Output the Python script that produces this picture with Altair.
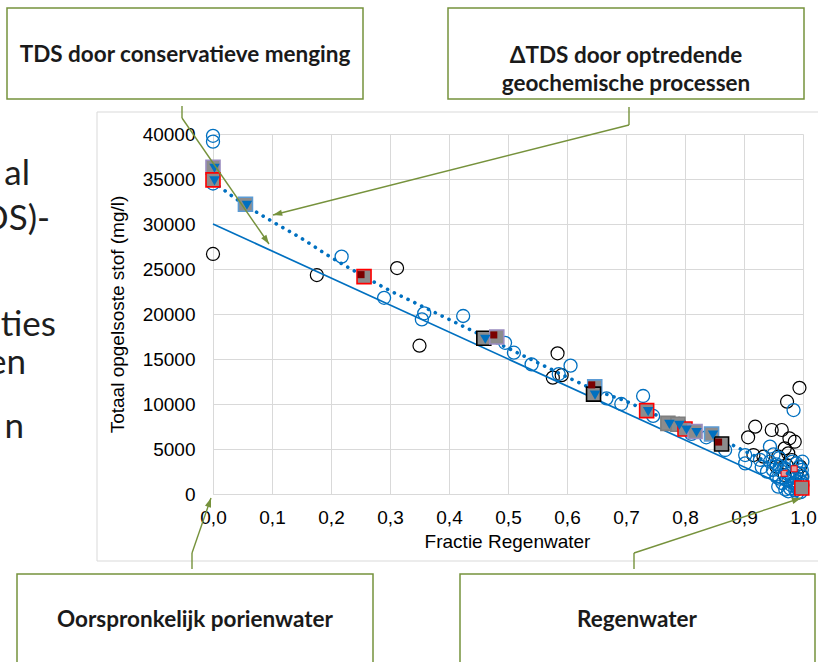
import math
import altair as alt
import pandas as pd

# ------------------------------------------------------------------ data
x_ticks = [0.0, 0.1, 0.2, 0.3, 0.4, 0.5, 0.6, 0.7, 0.8, 0.9, 1.0]
y_ticks = [0, 5000, 10000, 15000, 20000, 25000, 30000, 35000, 40000]

# conservative mixing line (solid)
mix_x = [0.0, 1.0]
mix_y = [30000, 0]

# trend through observed TDS (dotted)
trend_x = [0.0, 0.05, 0.1, 0.15, 0.2, 0.25, 0.3, 0.35, 0.4, 0.45, 0.5,
           0.55, 0.6, 0.65, 0.7, 0.75, 0.8, 0.85, 0.9, 0.95, 1.0]
trend_y = [34700, 32300, 30300, 28400, 26300, 24400, 22600, 21000, 19400, 17800, 16200,
           14600, 13000, 11500, 10300, 8800, 7500, 6400, 4800, 3200, 1200]

# open blue circles
blue_x = [0.0, 0.0, 0.0, 0.218, 0.29, 0.354, 0.358, 0.424, 0.495, 0.51, 0.54, 0.606,
          0.586, 0.667, 0.692, 0.729, 0.746, 0.775, 0.811, 0.836, 0.868, 0.902, 0.902,
          0.927, 0.944, 0.984,
          0.944, 0.961, 0.972, 0.989, 0.999, 0.998, 0.981, 0.995, 0.972, 0.955, 0.999,
          0.992, 0.983, 0.964, 0.949, 0.939, 0.958, 0.978, 0.999, 0.965, 0.987, 0.975,
          0.996, 0.990, 0.950, 0.960, 0.930,
          0.970, 0.980, 0.990, 0.985, 0.975, 0.995, 0.960, 0.968, 0.993, 0.982, 0.955,
          0.990, 0.998]
blue_y = [39800, 39150, 34500, 26370, 21800, 19400, 20080, 19780, 16800, 15700, 14400, 14260,
          13330, 10630, 10000, 10890, 8670, 7780, 6670, 6300, 4890, 4330, 3400,
          3800, 5260, 9330,
          3590, 3040, 2670, 3410, 3590, 2670, 1930, 1560, 1560, 1930, 1000,
          810, 1220, 2480, 2670, 2480, 810, 630, 1930, 1200, 400, 300,
          200, 1400, 4400, 4000, 3000,
          500, 1000, 700, 2000, 2200, 2300, 1700, 2900, 3000, 3600, 3300,
          100, 1300]

# open black circles
black_x = [0.0, 0.176, 0.312, 0.35, 0.584, 0.576, 0.591, 0.79, 0.907, 0.919, 0.947,
           0.964, 0.973, 0.994, 0.977, 0.986, 0.969, 0.975, 0.958, 0.916, 0.933, 0.981,
           0.995, 0.972, 0.955, 0.989, 0.969, 0.998, 0.986]
black_y = [26670, 24330, 25100, 16480, 15630, 12930, 13200, 7800, 6300, 7480, 7110,
           7110, 10260, 11800, 6190, 5810, 5070, 4520, 4150, 4330, 4150, 3780,
           3040, 3220, 3040, 2300, 2110, 1930, 1190]

# composite square markers
sq_x = [0.0, 0.0, 0.055, 0.256, 0.459, 0.481, 0.647, 0.645, 0.735, 0.771, 0.788,
        0.80, 0.817, 0.845, 0.862, 0.998]
sq_y = [36300, 34900, 32200, 24150, 17300, 17450, 11900, 11100, 9260, 7850, 7750,
        7220, 6950, 6670, 5550, 670]
sq_edge = ["purple", "red", "blue", "red", "black", "purple", "blue", "black", "red",
           "gray", "gray", "red", "purple", "blue", "black", "red"]
sq_maroon = [0, 0, 0, 1, 0, 1, 1, 0, 0, 0, 0, 0, 0, 0, 1, 0]
sq_tri = [1, 1, 1, 0, 1, 0, 0, 1, 1, 1, 1, 1, 1, 1, 0, 0]

# small red squares inside the cluster near 1.0
red_x = [0.968, 0.985, 0.992]
red_y = [2300, 2800, 1100]

# ------------------------------------------------------------------ layout
W, H = 590, 360
LEFT, TOP = 213, 134
BLUE = "#0070C0"
OLIVE = "#76923C"
AX_FONT = "Liberation Sans"
BOX_FONT = "Lato"


def px(v):
    return v - LEFT


def py(v):
    return v - TOP


one = alt.Data(values=[{"k": 0}])

xs = alt.Scale(domain=[0, 1], nice=False, zero=False)
ys = alt.Scale(domain=[0, 40000], nice=False)

x_axis = alt.Axis(
    values=x_ticks,
    labelExpr="replace(format(datum.value, '.1f'), '.', ',')",
    title="Fractie Regenwater",
    grid=True, gridColor="#d9d9d9", domainColor="#d9d9d9",
    ticks=False, tickSize=0, labelFlush=False, labelOverlap=False,
    labelFont=AX_FONT, labelFontSize=19, labelColor="#000000",
    labelPadding=23, labelBaseline="middle",
    titleFont=AX_FONT, titleFontSize=19, titleFontWeight="normal", titleColor="#000000",
    titleX=294, titleY=47, titleBaseline="middle", titleAlign="center",
)
y_axis = alt.Axis(
    values=y_ticks, format="d",
    title="Totaal opgelsoste stof (mg/l)",
    grid=True, gridColor="#d9d9d9", domainColor="#d9d9d9",
    ticks=False, tickSize=0, labelFlush=False,
    labelFont=AX_FONT, labelFontSize=19, labelColor="#000000", labelPadding=18,
    titleFont=AX_FONT, titleFontSize=19, titleFontWeight="normal", titleColor="#000000",
    titleX=-96, titleY=180, titleBaseline="middle", titleAlign="center", titleAngle=270,
)

X = lambda: alt.X("x:Q", scale=xs, axis=x_axis)
Y = lambda: alt.Y("y:Q", scale=ys, axis=y_axis)

blue_df = pd.DataFrame({"x": blue_x, "y": blue_y})
black_df = pd.DataFrame({"x": black_x, "y": black_y})
mix_df = pd.DataFrame({"x": mix_x, "y": mix_y})
trend_df = pd.DataFrame({"x": trend_x, "y": trend_y})
sq_df = pd.DataFrame({"x": sq_x, "y": sq_y, "edge": sq_edge,
                      "maroon": sq_maroon, "tri": sq_tri})
red_df = pd.DataFrame({"x": red_x, "y": red_y})

layers = []

# chart-area frame
layers.append(
    alt.Chart(one).mark_rect(fillOpacity=0, stroke="#d9d9d9", strokeWidth=1).encode(
        x=alt.value(px(97)), x2=alt.value(px(830)),
        y=alt.value(py(112)), y2=alt.value(py(561)))
)

black_layer = alt.Chart(black_df).mark_point(
    shape="circle", filled=False, color="#000000", size=169, strokeWidth=1.2, opacity=1
).encode(x=X(), y=Y())
blue_layer = alt.Chart(blue_df).mark_point(
    shape="circle", filled=False, color=BLUE, size=169, strokeWidth=1.3, opacity=1
).encode(x=X(), y=Y())
mix_layer = alt.Chart(mix_df).mark_line(color=BLUE, strokeWidth=1.7).encode(x=X(), y=Y())
trend_layer = alt.Chart(trend_df).mark_line(
    color=BLUE, strokeWidth=3.6, strokeDash=[0.1, 7.5], strokeCap="round",
    interpolate="monotone"
).encode(x=X(), y=Y())
red_layer = alt.Chart(red_df).mark_square(
    size=36, fill="#e89a9a", stroke="#ff0000", strokeWidth=1, opacity=1, fillOpacity=1
).encode(x=X(), y=Y())
sq_layer = alt.Chart(sq_df).mark_square(
    size=196, fill="#8c8c8c", strokeWidth=1.6, opacity=1, fillOpacity=1
).encode(
    x=X(), y=Y(),
    stroke=alt.Stroke("edge:N", legend=None, scale=alt.Scale(
        domain=["purple", "red", "blue", "black", "gray"],
        range=["#9a8cc0", "#ff0000", "#5b9bd5", "#000000", "#7f7f7f"])),
)
maroon_layer = alt.Chart(sq_df).transform_filter("datum.maroon == 1").mark_square(
    size=50, color="#7b0000", filled=True, opacity=1, xOffset=-3, yOffset=-2
).encode(x=X(), y=Y())
tri_layer = alt.Chart(sq_df).transform_filter("datum.tri == 1").mark_point(
    shape="triangle-down", filled=True, color=BLUE, size=110, opacity=1, xOffset=1.5, yOffset=1
).encode(x=X(), y=Y())

layers += [black_layer, blue_layer, red_layer, mix_layer, trend_layer,
           sq_layer, maroon_layer, tri_layer]

# slide text at the left edge (cut off by the picture's border)
slide_lines = [("al", 30, 185), ("(TDS)-", 50, 230), ("ties", 56, 336),
               ("en", 26, 374), ("n", 24, 438)]
for txt, xr, yb in slide_lines:
    layers.append(
        alt.Chart(one).mark_text(text=txt, font=BOX_FONT, fontSize=35, color="#1e1e1e",
                                 align="right", baseline="alphabetic").encode(
            x=alt.value(px(xr)), y=alt.value(py(yb)))
    )

# callout boxes
boxes = [(7, 8, 363, 99), (448, 8, 804, 99), (17, 574, 373, 700), (460, 574, 815, 700)]
for x1, y1, x2, y2 in boxes:
    layers.append(
        alt.Chart(one).mark_rect(fill="#ffffff", stroke=OLIVE, strokeWidth=1.5).encode(
            x=alt.value(px(x1)), x2=alt.value(px(x2)),
            y=alt.value(py(y1)), y2=alt.value(py(y2)))
    )

box_texts = [("TDS door conservatieve menging", 185, 55),
             (["ΔTDS door optredende", "geochemische processen"], 626, 56),
             ("Oorspronkelijk porienwater", 195, 620),
             ("Regenwater", 637, 620)]
for txt, cx, cy in box_texts:
    layers.append(
        alt.Chart(one).mark_text(text=txt, font=BOX_FONT, fontSize=22.5, fontWeight="bold",
                                 color="#1a1a1a", align="center", baseline="middle",
                                 lineHeight=28).encode(
            x=alt.value(px(cx)), y=alt.value(py(cy)))
    )

# leader lines with arrow heads
leaders = [
    [(182, 106), (182, 118), (269, 244)],
    [(629, 107), (629, 125), (273, 215)],
    [(192, 569), (192, 553), (211, 498)],
    [(634, 569), (634, 553), (801, 498)],
]
for pts in leaders:
    for (ax_, ay_), (bx_, by_) in zip(pts[:-1], pts[1:]):
        layers.append(
            alt.Chart(one).mark_rule(color=OLIVE, strokeWidth=1.4).encode(
                x=alt.value(px(ax_)), y=alt.value(py(ay_)),
                x2=alt.value(px(bx_)), y2=alt.value(py(by_)))
        )
    (ax_, ay_), (bx_, by_) = pts[-2], pts[-1]
    ang = math.degrees(math.atan2(bx_ - ax_, -(by_ - ay_))) % 360
    layers.append(
        alt.Chart(one).mark_point(shape="M0,0L0.45,1.3L-0.45,1.3Z", filled=True,
                                  color=OLIVE, size=200, angle=ang, opacity=1,
                                  strokeWidth=0).encode(
            x=alt.value(px(bx_)), y=alt.value(py(by_)))
    )

chart = alt.layer(*layers).properties(
    width=W, height=H,
    autosize=alt.AutoSizeParams(type="none"),
    padding={"left": LEFT, "top": TOP, "right": 818 - LEFT - W, "bottom": 662 - TOP - H},
    background="#ffffff",
).configure_view(strokeWidth=0)

chart.save("out.html", embed_options={"renderer": "svg", "actions": False})
